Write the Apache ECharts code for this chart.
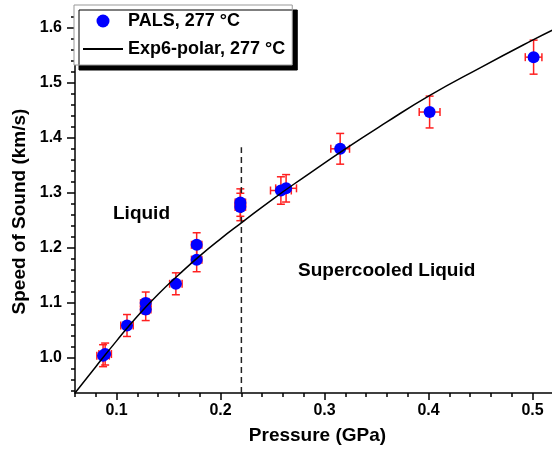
<!DOCTYPE html>
<html>
<head>
<meta charset="utf-8">
<script src="https://cdn.jsdelivr.net/npm/echarts@6/dist/echarts.min.js"></script>
<style>
  html, body { margin: 0; padding: 0; background: #fff; }
  #chart { width: 552px; height: 450px; }
</style>
</head>
<body>
<div id="chart"></div>
<script>
// measured points (PALS, 277 °C)
const pressure = [0.087, 0.089, 0.110, 0.128, 0.128, 0.157, 0.177, 0.177, 0.219, 0.219, 0.258, 0.263, 0.315, 0.401, 0.501]
const speed    = [1.003, 1.006, 1.058, 1.099, 1.087, 1.134, 1.205, 1.178, 1.282, 1.274, 1.304, 1.308, 1.380, 1.447, 1.547]
const pressErr = [0.006, 0.006, 0.006, 0.005, 0.005, 0.006, 0.005, 0.005, 0.005, 0.005, 0.010, 0.010, 0.009, 0.010, 0.008]
const speedErr = [0.020, 0.020, 0.020, 0.020, 0.020, 0.020, 0.022, 0.022, 0.025, 0.025, 0.025, 0.025, 0.028, 0.029, 0.031]

// model curve (Exp6-polar, 277 °C)
const curveP = [0.06, 0.08, 0.10, 0.12, 0.14, 0.16, 0.18, 0.20, 0.22, 0.25, 0.28, 0.32, 0.36, 0.40, 0.45, 0.50, 0.52]
const curveV = [0.935, 0.983, 1.030, 1.075, 1.115, 1.151, 1.185, 1.216, 1.245, 1.288, 1.328, 1.380, 1.429, 1.476, 1.528, 1.578, 1.597]

// phase boundary
const boundaryP = [0.22, 0.22]
const boundaryV = [0.935, 1.383]

// ticks
const xMajor = [0.1, 0.2, 0.3, 0.4, 0.5]
const xMinor = [0.06, 0.08, 0.12, 0.14, 0.16, 0.18, 0.22, 0.24, 0.26, 0.28, 0.32, 0.34, 0.36, 0.38, 0.42, 0.44, 0.46, 0.48]
const yMajor = [1.0, 1.1, 1.2, 1.3, 1.4, 1.5, 1.6]
const yMinor = [0.94, 0.96, 0.98, 1.02, 1.04, 1.06, 1.08, 1.12, 1.14, 1.16, 1.18, 1.22, 1.24, 1.26, 1.28,
                1.32, 1.34, 1.36, 1.38, 1.42, 1.44, 1.46, 1.48, 1.52, 1.54, 1.56, 1.58, 1.62]

const FONT = '"Liberation Sans", Arial, sans-serif'
const X_MIN = 0.06, X_MAX = 0.5187, Y_MIN = 0.935, Y_MAX = 1.622

const points = pressure.map((p, i) => [p, speed[i]])
const errors = pressure.map((p, i) => [p, speed[i], pressErr[i], speedErr[i]])
const curve = curveP.map((p, i) => [p, curveV[i]])
const boundary = boundaryP.map((p, i) => [p, boundaryV[i]])

function labelFmt (v) { return v.toFixed(1) }

const chart = echarts.init(document.getElementById('chart'))
chart.setOption({
  animation: false,
  backgroundColor: '#fff',
  textStyle: { fontFamily: FONT },
  grid: { left: 75, right: 0, top: 16, bottom: 54 },
  legend: {
    orient: 'vertical',
    left: 74,
    top: 5,
    padding: [7, 7, 7, 8],
    itemWidth: 40,
    itemHeight: 13,
    itemGap: 10,
    backgroundColor: '#fff',
    borderColor: '#999',
    borderWidth: 1,
    shadowColor: '#000',
    shadowBlur: 0,
    shadowOffsetX: 5,
    shadowOffsetY: 5,
    textStyle: { fontFamily: FONT, fontWeight: 'bold', fontSize: 18, color: '#000' },
    data: [
      { name: 'PALS, 277 °C', icon: 'circle', itemStyle: { opacity: 1 } },
      { name: 'Exp6-polar, 277 °C', itemStyle: { opacity: 0 } }
    ]
  },
  xAxis: [
    {
      type: 'value', min: X_MIN, max: X_MAX, position: 'bottom',
      name: 'Pressure (GPa)', nameLocation: 'middle', nameGap: 33,
      nameTextStyle: { fontFamily: FONT, fontWeight: 'bold', fontSize: 19, color: '#000', padding: [0, 0, 0, 8] },
      axisLine: { lineStyle: { color: '#000', width: 1.5 } },
      axisTick: { customValues: xMajor, length: 7, lineStyle: { color: '#000', width: 1.5 } },
      axisLabel: { customValues: xMajor, formatter: labelFmt, margin: 10, fontFamily: FONT, fontWeight: 'bold', fontSize: 16, color: '#000' },
      splitLine: { show: false }
    },
    {
      type: 'value', min: X_MIN, max: X_MAX, position: 'bottom',
      axisLine: { show: false },
      axisTick: { customValues: xMinor, length: 4, lineStyle: { color: '#000', width: 1.5 } },
      axisLabel: { show: false },
      splitLine: { show: false }
    }
  ],
  yAxis: [
    {
      type: 'value', min: Y_MIN, max: Y_MAX, position: 'left',
      name: 'Speed of Sound (km/s)', nameLocation: 'middle', nameGap: 45, nameRotate: 90,
      nameTextStyle: { fontFamily: FONT, fontWeight: 'bold', fontSize: 19, color: '#000', padding: [0, 14, 0, 0] },
      axisLine: { show: true, lineStyle: { color: '#000', width: 1.5 } },
      axisTick: { show: true, customValues: yMajor, length: 8, lineStyle: { color: '#000', width: 1.5 } },
      axisLabel: { customValues: yMajor, formatter: labelFmt, margin: 13, fontFamily: FONT, fontWeight: 'bold', fontSize: 16, color: '#000' },
      splitLine: { show: false }
    },
    {
      type: 'value', min: Y_MIN, max: Y_MAX, position: 'left',
      axisLine: { show: false },
      axisTick: { show: true, customValues: yMinor, length: 4, lineStyle: { color: '#000', width: 1.5 } },
      axisLabel: { show: false },
      splitLine: { show: false }
    }
  ],
  graphic: [
    { type: 'text', left: 113, top: 204, style: { text: 'Liquid', font: 'bold 19px ' + FONT, fill: '#000' } },
    { type: 'text', left: 298, top: 261, style: { text: 'Supercooled Liquid', font: 'bold 19px ' + FONT, fill: '#000' } }
  ],
  series: [
    {
      name: 'errors',
      type: 'custom',
      xAxisIndex: 0, yAxisIndex: 0,
      z: 1,
      data: errors,
      renderItem: function (params, api) {
        const x = api.value(0), y = api.value(1), dx = api.value(2), dy = api.value(3)
        const top = api.coord([x, y + dy]), bot = api.coord([x, y - dy])
        const lft = api.coord([x - dx, y]), rgt = api.coord([x + dx, y])
        const cap = 4
        const style = { stroke: '#ff2020', lineWidth: 1.5, fill: null }
        const seg = (x1, y1, x2, y2) => ({ type: 'line', shape: { x1, y1, x2, y2 }, style })
        return {
          type: 'group',
          children: [
            seg(bot[0], bot[1], top[0], top[1]),
            seg(top[0] - cap, top[1], top[0] + cap, top[1]),
            seg(bot[0] - cap, bot[1], bot[0] + cap, bot[1]),
            seg(lft[0], lft[1], rgt[0], rgt[1]),
            seg(lft[0], lft[1] - cap, lft[0], lft[1] + cap),
            seg(rgt[0], rgt[1] - cap, rgt[0], rgt[1] + cap)
          ]
        }
      }
    },
    {
      name: 'PALS, 277 °C',
      type: 'scatter',
      xAxisIndex: 0, yAxisIndex: 0,
      z: 2,
      symbol: 'circle',
      symbolSize: 12,
      itemStyle: { color: '#0000ff', opacity: 1 },
      data: points
    },
    {
      name: 'boundary',
      type: 'line',
      xAxisIndex: 0, yAxisIndex: 0,
      z: 2,
      symbol: 'none',
      lineStyle: { color: '#222', width: 1.5, type: [6, 4] },
      data: boundary
    },
    {
      name: 'Exp6-polar, 277 °C',
      type: 'line',
      xAxisIndex: 0, yAxisIndex: 0,
      z: 3,
      symbol: 'none',
      smooth: true,
      itemStyle: { color: '#000' },
      lineStyle: { color: '#000', width: 1.5 },
      data: curve
    }
  ]
})
</script>
</body>
</html>
